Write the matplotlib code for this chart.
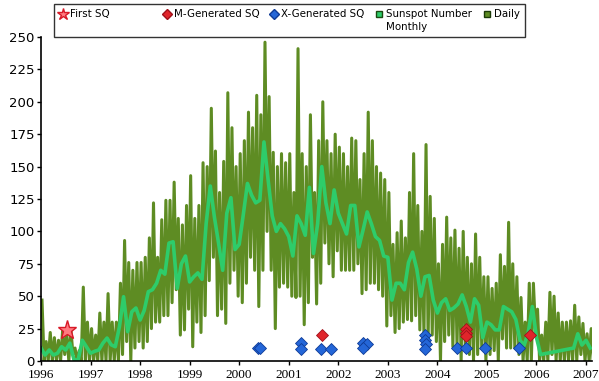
import numpy as np
import matplotlib
matplotlib.use("Agg")
import matplotlib.pyplot as plt
from matplotlib.lines import Line2D

# monthly sunspot number, Jan 1996 .. Feb 2007 (nan = no data)
monthly = [
    10, 4.6, 8.5, 4.6, 6, 11, 8.5, 13.8, 0.8, 0.8, 16, 11,          # 1996
    6, 7.5, 8.5, 13.8, 17.7, 12.5, 11, 26.5, 49.6, 22.6, 38, 40.9,  # 1997
    31.6, 39, 53.5, 55, 60, 70, 67, 91, 92, 56, 75, 81,             # 1998
    61, 65, 68, 63, 106, 135, 111, 91, 70, 114, 126, 86,            # 1999
    90, 113, 137, 128, 122, 124, 169, 140, 112, 100, 106, 102,      # 2000
    96, 81, 112, 106, 97, 134, 83, 106, 150, 122, 106, 132,         # 2001
    114, 106, 98, 120, 120, 88, 101, 115, 106, 96, 93, 81,          # 2002
    80, 47, 60, 60, 55, 76, 84, 71, 50, 65, 66, 47,                 # 2003
    37, 45, 48, 39, 41, 44, 51, 42, 30, 48, 43, 18,                 # 2004
    30, 28, 24, 24, 42, 40, 38, 32, 16, 12, 22, 42,                 # 2005
    18, 5, np.nan, np.nan, np.nan, np.nan, np.nan, np.nan, np.nan, 10, 21, 12.3,  # 2006
    16, 10,                                                         # 2007
]

# daily sunspot number: highest and lowest daily value in each month
daily_hi = [
    47, 15, 22, 18, 16, 24, 20, 24, 10, 8, 57, 30,
    25, 20, 37, 30, 52, 30, 30, 60, 93, 76, 70, 76,
    76, 80, 95, 122, 80, 109, 124, 124, 138, 110, 105, 120,
    143, 110, 120, 153, 150, 195, 162, 130, 154, 207, 180, 150,
    160, 170, 192, 180, 205, 190, 246, 204, 161, 150, 160, 153,
    160, 130, 241, 160, 150, 190, 130, 170, 200, 170, 160, 175,
    165, 160, 150, 172, 170, 140, 160, 192, 170, 150, 145, 140,
    130, 90, 99, 108, 95, 130, 160, 120, 100, 167, 127, 110,
    75, 90, 111, 95, 101, 87, 100, 80, 75, 98, 80, 65,
    65, 56, 60, 82, 73, 107, 75, 65, 49, 30, 60, 60,
    40, 20, 30, 53, 50, 37, 30, 30, 31, 43, 34, 29,
    21, 25,
]
daily_lo = [
    0, 0, 0, 0, 0, 5, 0, 5, 0, 0, 0, 0,
    0, 0, 0, 0, 0, 0, 0, 5, 15, 0, 10, 15,
    10, 15, 25, 30, 30, 35, 35, 45, 55, 20, 24, 40,
    11, 30, 22, 35, 62, 80, 35, 40, 29, 60, 70, 50,
    45, 60, 80, 70, 42, 70, 100, 70, 25, 57, 60, 57,
    50, 49, 50, 28, 45, 80, 44, 60, 91, 75, 65, 85,
    70, 70, 70, 70, 75, 52, 55, 60, 60, 55, 50, 27,
    35, 22, 25, 30, 32, 31, 35, 24, 20, 16, 20, 15,
    0, 15, 20, 11, 12, 0, 10, 5, 0, 5, 10, 0,
    5, 8, 0, 17, 10, 10, 10, 5, 0, 0, 0, 25,
    0, 0, 0, 5, 0, 0, 0, 0, 0, 0, 5, 0,
    0, 0,
]

# sunquake events (decimal year, value)
first_sq_t = [1996.52]
first_sq_v = [24]
m_sq_t = [2001.67, 2004.57, 2004.57, 2004.57, 2005.86]
m_sq_v = [20, 25, 21.5, 19, 20]
x_sq_t = [2000.37, 2000.43, 2001.24, 2001.24, 2001.66, 2001.86,
          2002.49, 2002.57, 2002.49, 2003.76, 2003.76, 2003.78, 2003.76,
          2004.39, 2004.57, 2004.97, 2005.64]
x_sq_v = [10, 10, 14, 9.5, 9.5, 9.5,
          14, 13, 10, 20, 16, 13.5, 9,
          10, 10, 10, 10]

years = list(range(1996, 2008))

monthly = np.array(monthly, dtype=float)
t_month = 1996 + np.arange(len(monthly)) / 12.0
ok = ~np.isnan(monthly)

t_daily = np.empty(2 * len(daily_hi))
v_daily = np.empty(2 * len(daily_hi))
t_daily[0::2] = 1996 + (np.arange(len(daily_hi)) + 0.25) / 12.0
t_daily[1::2] = 1996 + (np.arange(len(daily_lo)) + 0.75) / 12.0
v_daily[0::2] = daily_hi
v_daily[1::2] = daily_lo

daily_col = "#5e8c23"
month_col = "#2ecc6a"

fig = plt.figure(figsize=(5.99, 3.81), dpi=100)
ax = fig.add_axes([0.0684, 0.0525, 0.9199, 0.8504])

ax.plot(t_daily, v_daily, color=daily_col, lw=2.2, zorder=2)
ax.plot(t_month[ok], monthly[ok], color=month_col, lw=2.6, zorder=3)

ax.plot(first_sq_t, first_sq_v, ls="none", marker="*", ms=14,
        mfc="#ff7a80", mec="#d81a28", mew=1.0, zorder=5)
ax.plot(m_sq_t, m_sq_v, ls="none", marker="D", ms=6.5,
        mfc="#e0252b", mec="#a0101a", mew=0.6, zorder=5)
ax.plot(x_sq_t, x_sq_v, ls="none", marker="D", ms=6.5,
        mfc="#2466d8", mec="#0e3a96", mew=0.6, zorder=5)

ax.set_xlim(1996, 2007.12)
ax.set_ylim(0, 250)
ax.set_yticks(np.arange(0, 251, 25))
ax.set_xticks(years)
ax.set_xticklabels([str(y) for y in years])
ax.tick_params(labelsize=9.5, length=3, width=1, direction="out", pad=1.5)
for lbl in ax.get_xticklabels():
    lbl.set_family("Liberation Serif")
    lbl.set_fontsize(9.5)
ax.tick_params(axis="x", pad=2.5)
ax.spines["top"].set_visible(False)
ax.spines["right"].set_visible(False)
for s in ("left", "bottom"):
    ax.spines[s].set_linewidth(1.2)
    ax.spines[s].set_zorder(6)

blank = Line2D([], [], ls="none")
handles = [
    Line2D([], [], ls="none", marker="*", ms=9, mfc="#ff7a80", mec="#d81a28"), blank,
    Line2D([], [], ls="none", marker="D", ms=5, mfc="#e0252b", mec="#a0101a"), blank,
    Line2D([], [], ls="none", marker="D", ms=5, mfc="#2466d8", mec="#0e3a96"), blank,
    Line2D([], [], ls="none", marker="s", ms=5, mfc=month_col, mec="#1a4a10"), blank,
    Line2D([], [], ls="none", marker="s", ms=5, mfc=daily_col, mec="#1a3a08"), blank,
]
labels = ["First SQ" + " " * 13, " ", "M-Generated SQ", " ", "X-Generated SQ", " ",
          "Sunspot Number", "Monthly", "Daily", " "]
leg = fig.legend(handles, labels, ncol=5, loc="upper left",
                 bbox_to_anchor=(0.090, 0.9895), fontsize=7.4, frameon=True,
                 fancybox=False, edgecolor="black", handlelength=0.8,
                 handletextpad=0.3, columnspacing=1.0, borderpad=0.5,
                 labelspacing=0.3, borderaxespad=0)
leg.get_frame().set_linewidth(1.0)

fig.savefig("out.png", dpi=100)
